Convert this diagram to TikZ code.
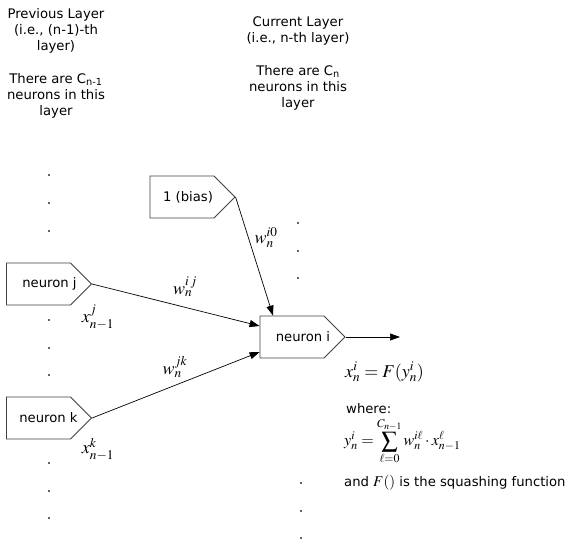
\documentclass[tikz,border=0pt]{standalone}
\usepackage{mathptmx}
\usepackage[no-math]{fontspec}
\setmainfont{DejaVu Sans}
\usetikzlibrary{arrows.meta}
\usetikzlibrary{shapes.symbols}

\begin{document}
\begin{tikzpicture}[x=1pt,y=-1pt,
    neuron/.style={shape=signal, signal to=east, signal from=nowhere, draw=black!75, line width=0.8pt,
                   minimum width=85pt, minimum height=42pt, inner sep=0pt},
    nlabel/.style={inner sep=0pt, font=\fontsize{13.2}{15}\selectfont},
    layertext/.style={align=center, anchor=north, inner sep=0pt, font=\fontsize{13.2}{16}\selectfont},
    wire/.style={black, line width=0.7pt, -{Triangle[length=10pt,width=7pt]}},
    wlabel/.style={inner sep=0pt, font=\fontsize{18}{20}\selectfont}]
            \useasboundingbox (0,0) rectangle (573,543);

            % layer headings
            \node[layertext] (prevlayer) at (56,8) {Previous Layer\\(i.e., (n-1)-th\\layer)};
            \node[layertext] (prevcount) at (56,73) {There are C\textsubscript{n-1}\\neurons in this\\layer};
            \node[layertext] (curlayer) at (298,17) {Current Layer\\(i.e., n-th layer)};
            \node[layertext] (curcount) at (298,65) {There are C\textsubscript{n}\\neurons in this\\layer};

            % neurons
            \node[neuron, label={[nlabel, xshift=6pt]center:1 (bias)}] (bias) at (182,197) {};
            \node[neuron, label={[nlabel, xshift=11pt]center:neuron j}] (nj) at (38.5,284) {};
            \node[neuron, label={[nlabel, xshift=10pt]center:neuron k}] (nk) at (38.5,418) {};
            \node[neuron, label={[nlabel, xshift=11pt]center:neuron i}] (ni) at (292,337) {};
            \coordinate (out) at (400,337);

            % weighted inputs
            \draw[wire] (bias.east) -- ([xshift=-19pt]ni.north);
            \draw[wire] (nj.east) -- ([yshift=11pt]ni.west);
            \draw[wire] (nk.east) -- ([yshift=-15pt]ni.west);
            \draw[wire] (ni.east) -- (out);

            \node[wlabel] (wbias) at (266,238) {$w_n^{i0}$};
            \node[wlabel] (wj) at (185,287) {$w_n^{i\,j}$};
            \node[wlabel] (wk) at (175,367) {$w_n^{jk}$};
            \node[wlabel] (xj) at (98,317) {$x_{n-1}^{j}$};
            \node[wlabel] (xk) at (98,449) {$x_{n-1}^{k}$};

            % output and squashing
            \node[wlabel, anchor=west] (xout) at (345,372) {$x_n^i = F(y_n^i)$};
            \node[layertext, anchor=base west] (where) at (346,413) {where:};
            \node[wlabel, anchor=west, font=\fontsize{16}{18}\selectfont] (ysum) at (344,441)
                {$\displaystyle y_n^i = \sum_{\ell=0}^{C_{n-1}} w_n^{i\ell}\cdot x_{n-1}^{\ell}$};
            \node[layertext, anchor=base west] (squash) at (344,486)
                {and {\fontsize{15}{15}\selectfont$F()$} is the squashing function};

            % dots
            \filldraw[black] (49,175) circle (0.6pt);
            \filldraw[black] (49,203) circle (0.6pt);
            \filldraw[black] (49,231) circle (0.6pt);
            \filldraw[black] (49,320) circle (0.6pt);
            \filldraw[black] (49,348) circle (0.6pt);
            \filldraw[black] (49,375) circle (0.6pt);
            \filldraw[black] (49,463) circle (0.6pt);
            \filldraw[black] (49,491) circle (0.6pt);
            \filldraw[black] (49,518) circle (0.6pt);
            \filldraw[black] (298,223) circle (0.6pt);
            \filldraw[black] (298,251) circle (0.6pt);
            \filldraw[black] (298,278) circle (0.6pt);
            \filldraw[black] (301,483) circle (0.6pt);
            \filldraw[black] (301,511) circle (0.6pt);
            \filldraw[black] (301,538) circle (0.6pt);
        \end{tikzpicture}
\end{document}
